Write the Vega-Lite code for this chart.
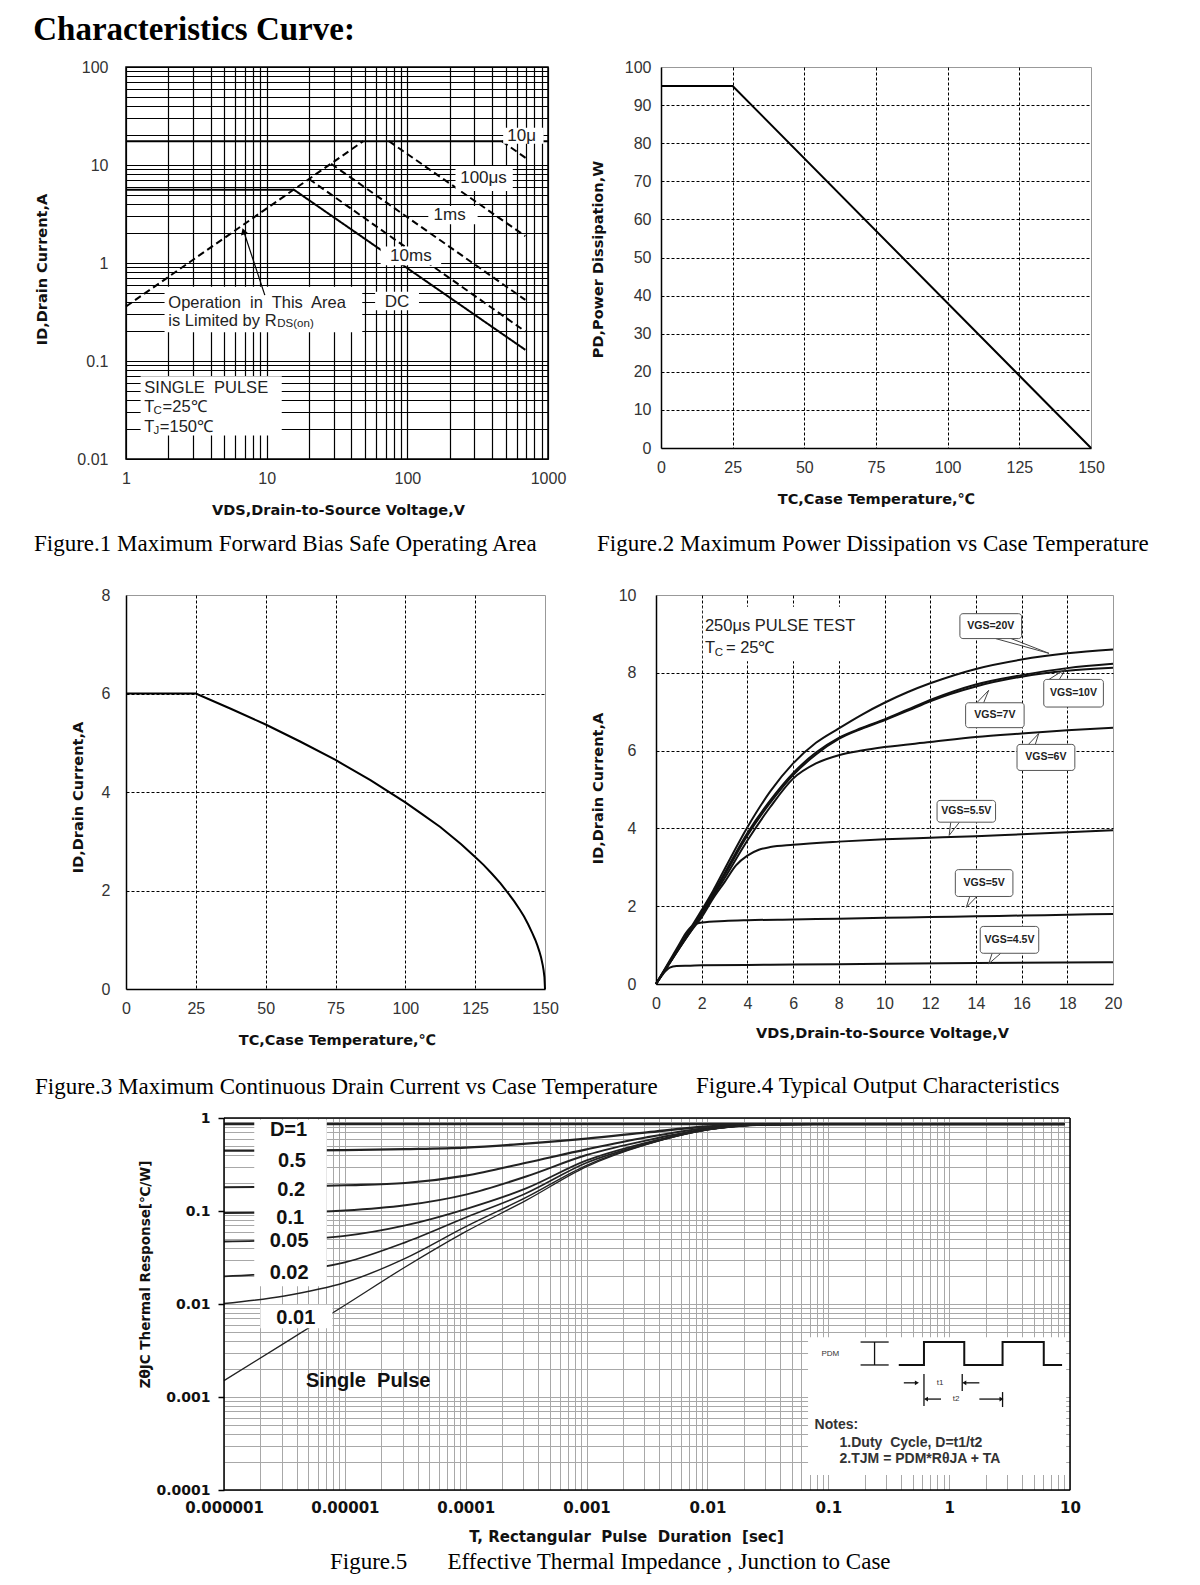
{
"$schema": "https://vega.github.io/schema/vega-lite/v6.json",
"background": "white",
"padding": {"left": 33, "top": 14, "right": 5, "bottom": 5},
"title": {"text": "Characteristics Curve:", "anchor": "start", "frame": "bounds", "font": "Liberation Serif", "fontSize": 33, "fontWeight": "bold", "color": "#000", "baseline": "alphabetic", "offset": -15},
"config": {
  "view": {"stroke": null},
  "axis": {"labelFont": "Liberation Sans", "labelFontSize": 16, "labelColor": "#333", "titleFont": "DejaVu Sans", "titleFontSize": 14.5, "titleFontWeight": "bold", "titleColor": "#111", "labelFlush": false, "labelOverlap": false, "ticks": false, "domain": false, "grid": true},
  "title": {"font": "Liberation Serif", "fontWeight": "normal", "color": "#000"}
},
"datasets": {
  "f1lines": [
    {"s":"idm","o":1,"x":1,"y":17.5},{"s":"idm","o":2,"x":1000,"y":17.5},
    {"s":"rds","o":1,"x":1,"y":0.36},{"s":"rds","o":2,"x":48.6,"y":17.5},
    {"s":"us10","o":1,"x":470,"y":17.5},{"s":"us10","o":2,"x":700,"y":11.7},
    {"s":"us100","o":1,"x":74,"y":17.5},{"s":"us100","o":2,"x":690,"y":1.88},
    {"s":"ms1","o":1,"x":28.7,"y":10.3},{"s":"ms1","o":2,"x":690,"y":0.42},
    {"s":"ms10","o":1,"x":20,"y":7.2},{"s":"ms10","o":2,"x":690,"y":0.2},
    {"s":"dc","o":1,"x":1,"y":5.6},{"s":"dc","o":2,"x":15.6,"y":5.6},{"s":"dc","o":3,"x":690,"y":0.13}
  ],
  "f1boxes": [
    {"x":1.88,"x2":47.8,"y":0.196,"y2":0.574},
    {"x":59,"x2":121,"y":0.329,"y2":0.509},
    {"x":1.27,"x2":12.8,"y":0.0174,"y2":0.07},
    {"x":480,"x2":930,"y":16.5,"y2":24},
    {"x":220,"x2":562,"y":5.43,"y2":9.78},
    {"x":141,"x2":316,"y":2.48,"y2":3.81},
    {"x":64.6,"x2":174,"y":0.95,"y2":1.47}
  ],
  "f1arrow": [{"x":9.7,"y":0.47,"x2":6.95,"y2":2.0}],
  "f1head": [{"x":6.85,"y":2.1}],
  "f1tc": [
    {"x":650,"y":19.8,"t":"10μ"},
    {"x":348,"y":7.3,"t":"100μs"},
    {"x":200,"y":3.07,"t":"1ms"},
    {"x":106,"y":1.18,"t":"10ms"},
    {"x":84.5,"y":0.401,"t":"DC"}
  ],
  "f1tl": [
    {"x":2.0,"y":0.392,"t":"Operation\u00a0 in\u00a0 This\u00a0 Area","k":"main"},
    {"x":2.0,"y":0.253,"t":"is Limited by R","k":"main"},
    {"x":11.9,"y":0.236,"t":"DS(on)","k":"sub"},
    {"x":1.35,"y":0.0531,"t":"SINGLE\u00a0 PULSE","k":"main"},
    {"x":1.35,"y":0.0338,"t":"T","k":"main"},
    {"x":1.57,"y":0.0312,"t":"C","k":"sub"},
    {"x":1.82,"y":0.0338,"t":"=25℃","k":"main"},
    {"x":1.35,"y":0.0211,"t":"T","k":"main"},
    {"x":1.57,"y":0.0195,"t":"J","k":"sub"},
    {"x":1.74,"y":0.0211,"t":"=150℃","k":"main"}
  ],
  "f2": [{"x":0,"y":95},{"x":25,"y":95},{"x":150,"y":0}],
  "f3": [{"x":0,"y":6},{"x":25,"y":6},{"x":37.5,"y":5.69},{"x":50,"y":5.37},{"x":62.5,"y":5.02},{"x":75,"y":4.65},{"x":87.5,"y":4.24},{"x":100,"y":3.79},{"x":106,"y":3.55},{"x":112.5,"y":3.29},{"x":120,"y":2.94},{"x":125,"y":2.68},{"x":128,"y":2.52},{"x":131,"y":2.34},{"x":134,"y":2.15},{"x":137,"y":1.93},{"x":139,"y":1.78},{"x":141,"y":1.61},{"x":142.5,"y":1.47},{"x":144,"y":1.31},{"x":145.5,"y":1.13},{"x":146.5,"y":1.0},{"x":147.3,"y":0.88},{"x":148,"y":0.76},{"x":148.6,"y":0.64},{"x":149.2,"y":0.48},{"x":149.5,"y":0.38},{"x":149.8,"y":0.24},{"x":150,"y":0}],
  "f4": [
    {"s":"20V","x":0,"y":0},{"s":"20V","x":0.5,"y":0.48},{"s":"20V","x":1,"y":0.95},{"s":"20V","x":1.5,"y":1.42},{"s":"20V","x":2,"y":1.9},{"s":"20V","x":2.5,"y":2.4},{"s":"20V","x":3,"y":2.95},{"s":"20V","x":4,"y":4.03},{"s":"20V","x":5,"y":4.95},{"s":"20V","x":6,"y":5.67},{"s":"20V","x":7,"y":6.2},{"s":"20V","x":8,"y":6.57},{"s":"20V","x":9,"y":6.92},{"s":"20V","x":10,"y":7.23},{"s":"20V","x":11,"y":7.5},{"s":"20V","x":12,"y":7.73},{"s":"20V","x":14,"y":8.1},{"s":"20V","x":16,"y":8.34},{"s":"20V","x":18,"y":8.5},{"s":"20V","x":20,"y":8.6},
    {"s":"10V","x":0,"y":0},{"s":"10V","x":0.5,"y":0.47},{"s":"10V","x":1,"y":0.93},{"s":"10V","x":1.5,"y":1.38},{"s":"10V","x":2,"y":1.85},{"s":"10V","x":2.5,"y":2.33},{"s":"10V","x":3,"y":2.85},{"s":"10V","x":4,"y":3.88},{"s":"10V","x":5,"y":4.72},{"s":"10V","x":6,"y":5.42},{"s":"10V","x":7,"y":5.95},{"s":"10V","x":8,"y":6.33},{"s":"10V","x":9,"y":6.58},{"s":"10V","x":10,"y":6.8},{"s":"10V","x":11,"y":7.05},{"s":"10V","x":12,"y":7.3},{"s":"10V","x":14,"y":7.7},{"s":"10V","x":16,"y":7.94},{"s":"10V","x":18,"y":8.12},{"s":"10V","x":20,"y":8.23},
    {"s":"7V","x":0,"y":0},{"s":"7V","x":0.5,"y":0.46},{"s":"7V","x":1,"y":0.92},{"s":"7V","x":1.5,"y":1.37},{"s":"7V","x":2,"y":1.83},{"s":"7V","x":2.5,"y":2.3},{"s":"7V","x":3,"y":2.8},{"s":"7V","x":4,"y":3.82},{"s":"7V","x":5,"y":4.66},{"s":"7V","x":6,"y":5.37},{"s":"7V","x":7,"y":5.9},{"s":"7V","x":8,"y":6.3},{"s":"7V","x":9,"y":6.56},{"s":"7V","x":10,"y":6.78},{"s":"7V","x":11,"y":7.02},{"s":"7V","x":12,"y":7.27},{"s":"7V","x":14,"y":7.65},{"s":"7V","x":16,"y":7.9},{"s":"7V","x":18,"y":8.05},{"s":"7V","x":20,"y":8.13},
    {"s":"6V","x":0,"y":0},{"s":"6V","x":0.5,"y":0.45},{"s":"6V","x":1,"y":0.9},{"s":"6V","x":1.5,"y":1.34},{"s":"6V","x":2,"y":1.78},{"s":"6V","x":2.5,"y":2.25},{"s":"6V","x":3,"y":2.72},{"s":"6V","x":4,"y":3.69},{"s":"6V","x":5,"y":4.55},{"s":"6V","x":6,"y":5.28},{"s":"6V","x":7,"y":5.67},{"s":"6V","x":8,"y":5.88},{"s":"6V","x":9,"y":6.0},{"s":"6V","x":10,"y":6.09},{"s":"6V","x":12,"y":6.22},{"s":"6V","x":14,"y":6.35},{"s":"6V","x":16,"y":6.44},{"s":"6V","x":18,"y":6.52},{"s":"6V","x":20,"y":6.59},
    {"s":"5.5V","x":0,"y":0},{"s":"5.5V","x":0.5,"y":0.45},{"s":"5.5V","x":1,"y":0.9},{"s":"5.5V","x":1.5,"y":1.33},{"s":"5.5V","x":2,"y":1.72},{"s":"5.5V","x":2.5,"y":2.2},{"s":"5.5V","x":3,"y":2.62},{"s":"5.5V","x":3.5,"y":3.05},{"s":"5.5V","x":4,"y":3.3},{"s":"5.5V","x":4.5,"y":3.45},{"s":"5.5V","x":5,"y":3.52},{"s":"5.5V","x":6,"y":3.58},{"s":"5.5V","x":8,"y":3.66},{"s":"5.5V","x":10,"y":3.72},{"s":"5.5V","x":12,"y":3.76},{"s":"5.5V","x":14,"y":3.8},{"s":"5.5V","x":16,"y":3.85},{"s":"5.5V","x":18,"y":3.9},{"s":"5.5V","x":20,"y":3.95},
    {"s":"5V","x":0,"y":0},{"s":"5V","x":0.5,"y":0.5},{"s":"5V","x":1,"y":1.0},{"s":"5V","x":1.3,"y":1.3},{"s":"5V","x":1.6,"y":1.5},{"s":"5V","x":2,"y":1.58},{"s":"5V","x":3,"y":1.62},{"s":"5V","x":4,"y":1.64},{"s":"5V","x":6,"y":1.66},{"s":"5V","x":8,"y":1.68},{"s":"5V","x":10,"y":1.7},{"s":"5V","x":12,"y":1.72},{"s":"5V","x":14,"y":1.74},{"s":"5V","x":16,"y":1.76},{"s":"5V","x":18,"y":1.78},{"s":"5V","x":20,"y":1.8},
    {"s":"4.5V","x":0,"y":0},{"s":"4.5V","x":0.3,"y":0.25},{"s":"4.5V","x":0.6,"y":0.42},{"s":"4.5V","x":0.9,"y":0.46},{"s":"4.5V","x":1.5,"y":0.47},{"s":"4.5V","x":2,"y":0.48},{"s":"4.5V","x":4,"y":0.49},{"s":"4.5V","x":6,"y":0.5},{"s":"4.5V","x":10,"y":0.52},{"s":"4.5V","x":14,"y":0.54},{"s":"4.5V","x":20,"y":0.56}
  ],
  "f4bg": [{"x":2.05,"x2":9.7,"y":8.3,"y2":9.7}],
  "f4boxes": [
    {"x":13.3,"x2":16.0,"y":8.88,"y2":9.52},
    {"x":16.97,"x2":19.58,"y":7.12,"y2":7.83},
    {"x":13.55,"x2":16.11,"y":6.59,"y2":7.23},
    {"x":15.8,"x2":18.33,"y":5.49,"y2":6.16},
    {"x":12.3,"x2":14.86,"y":4.16,"y2":4.72},
    {"x":13.1,"x2":15.62,"y":2.25,"y2":2.94},
    {"x":14.19,"x2":16.75,"y":0.79,"y2":1.48}
  ],
  "f4ptr": [
    {"x":14.86,"y":8.88,"x2":17.2,"y2":8.5},{"x":15.54,"y":8.88,"x2":17.2,"y2":8.5},
    {"x":17.2,"y":7.83,"x2":17.95,"y2":8.11},{"x":17.65,"y":7.83,"x2":17.95,"y2":8.11},
    {"x":14.04,"y":7.23,"x2":14.56,"y2":7.55},{"x":14.34,"y":7.23,"x2":14.56,"y2":7.55},
    {"x":16.3,"y":6.16,"x2":16.75,"y2":6.44},{"x":16.6,"y":6.16,"x2":16.75,"y2":6.44},
    {"x":12.9,"y":4.16,"x2":12.83,"y2":3.82},{"x":13.28,"y":4.16,"x2":12.83,"y2":3.82},
    {"x":13.73,"y":2.25,"x2":13.58,"y2":1.97},{"x":14.04,"y":2.25,"x2":13.58,"y2":1.97},
    {"x":14.71,"y":0.79,"x2":14.56,"y2":0.52},{"x":15.09,"y":0.79,"x2":14.56,"y2":0.52}
  ],
  "f4call": [
    {"x":14.65,"y":9.2,"t":"VGS=20V"},
    {"x":18.27,"y":7.47,"t":"VGS=10V"},
    {"x":14.83,"y":6.91,"t":"VGS=7V"},
    {"x":17.06,"y":5.83,"t":"VGS=6V"},
    {"x":13.58,"y":4.44,"t":"VGS=5.5V"},
    {"x":14.36,"y":2.6,"t":"VGS=5V"},
    {"x":15.47,"y":1.13,"t":"VGS=4.5V"}
  ],
  "f4ann": [
    {"x":2.14,"y":9.2,"t":"250μs PULSE TEST","k":"main"},
    {"x":2.14,"y":8.63,"t":"T","k":"main"},
    {"x":2.57,"y":8.5,"t":"C","k":"sub"},
    {"x":3.06,"y":8.63,"t":"= 25℃","k":"main"}
  ],
  "f5curves": [
    {"s":"1","x":1e-6,"y":0.86},{"s":"1","x":9,"y":0.86},
    {"s":"0.5","x":1e-6,"y":0.445},{"s":"0.5","x":3.16e-6,"y":0.447},{"s":"0.5","x":1e-5,"y":0.452},{"s":"0.5","x":3.16e-5,"y":0.462},{"s":"0.5","x":1e-4,"y":0.48},{"s":"0.5","x":3.16e-4,"y":0.53},{"s":"0.5","x":1e-3,"y":0.6},{"s":"0.5","x":3.16e-3,"y":0.7},{"s":"0.5","x":1e-2,"y":0.81},{"s":"0.5","x":3.16e-2,"y":0.855},{"s":"0.5","x":0.1,"y":0.86},{"s":"0.5","x":9,"y":0.86},
    {"s":"0.2","x":1e-6,"y":0.18},{"s":"0.2","x":3.16e-6,"y":0.182},{"s":"0.2","x":1e-5,"y":0.189},{"s":"0.2","x":3.16e-5,"y":0.2},{"s":"0.2","x":1e-4,"y":0.24},{"s":"0.2","x":3.16e-4,"y":0.33},{"s":"0.2","x":1e-3,"y":0.46},{"s":"0.2","x":3.16e-3,"y":0.62},{"s":"0.2","x":1e-2,"y":0.78},{"s":"0.2","x":3.16e-2,"y":0.852},{"s":"0.2","x":0.1,"y":0.86},{"s":"0.2","x":9,"y":0.86},
    {"s":"0.1","x":1e-6,"y":0.095},{"s":"0.1","x":3.16e-6,"y":0.096},{"s":"0.1","x":1e-5,"y":0.101},{"s":"0.1","x":3.16e-5,"y":0.115},{"s":"0.1","x":1e-4,"y":0.15},{"s":"0.1","x":3.16e-4,"y":0.235},{"s":"0.1","x":1e-3,"y":0.4},{"s":"0.1","x":3.16e-3,"y":0.575},{"s":"0.1","x":1e-2,"y":0.76},{"s":"0.1","x":3.16e-2,"y":0.85},{"s":"0.1","x":0.1,"y":0.86},{"s":"0.1","x":9,"y":0.86},
    {"s":"0.05","x":1e-6,"y":0.047},{"s":"0.05","x":3.16e-6,"y":0.049},{"s":"0.05","x":1e-5,"y":0.054},{"s":"0.05","x":3.16e-5,"y":0.07},{"s":"0.05","x":1e-4,"y":0.105},{"s":"0.05","x":3.16e-4,"y":0.175},{"s":"0.05","x":1e-3,"y":0.35},{"s":"0.05","x":3.16e-3,"y":0.545},{"s":"0.05","x":1e-2,"y":0.755},{"s":"0.05","x":3.16e-2,"y":0.85},{"s":"0.05","x":0.1,"y":0.86},{"s":"0.05","x":9,"y":0.86},
    {"s":"0.02","x":1e-6,"y":0.0198},{"s":"0.02","x":3.16e-6,"y":0.022},{"s":"0.02","x":1e-5,"y":0.028},{"s":"0.02","x":3.16e-5,"y":0.046},{"s":"0.02","x":1e-4,"y":0.085},{"s":"0.02","x":3.16e-4,"y":0.155},{"s":"0.02","x":1e-3,"y":0.33},{"s":"0.02","x":3.16e-3,"y":0.53},{"s":"0.02","x":1e-2,"y":0.75},{"s":"0.02","x":3.16e-2,"y":0.85},{"s":"0.02","x":0.1,"y":0.86},{"s":"0.02","x":9,"y":0.86},
    {"s":"0.01","x":1e-6,"y":0.0101},{"s":"0.01","x":3.16e-6,"y":0.0122},{"s":"0.01","x":1e-5,"y":0.017},{"s":"0.01","x":3.16e-5,"y":0.031},{"s":"0.01","x":1e-4,"y":0.068},{"s":"0.01","x":3.16e-4,"y":0.14},{"s":"0.01","x":1e-3,"y":0.31},{"s":"0.01","x":3.16e-3,"y":0.525},{"s":"0.01","x":1e-2,"y":0.745},{"s":"0.01","x":3.16e-2,"y":0.85},{"s":"0.01","x":0.1,"y":0.86},{"s":"0.01","x":9,"y":0.86},
    {"s":"sp","x":1e-6,"y":0.0015},{"s":"sp","x":3.16e-6,"y":0.0038},{"s":"sp","x":1e-5,"y":0.0097},{"s":"sp","x":3.16e-5,"y":0.025},{"s":"sp","x":1e-4,"y":0.06},{"s":"sp","x":3.16e-4,"y":0.13},{"s":"sp","x":1e-3,"y":0.3},{"s":"sp","x":3.16e-3,"y":0.52},{"s":"sp","x":1e-2,"y":0.745},{"s":"sp","x":3.16e-2,"y":0.85},{"s":"sp","x":0.1,"y":0.86},{"s":"sp","x":9,"y":0.86}
  ],
  "f5frame": [
    {"x":1e-6,"x2":10,"y":1,"y2":1},
    {"x":1e-6,"x2":10,"y":0.0001,"y2":0.0001},
    {"x":1e-6,"x2":1e-6,"y":0.0001,"y2":1},
    {"x":10,"x2":10,"y":0.0001,"y2":1}
  ],
  "f5boxes": [
    {"x":1.78e-6,"x2":7.08e-6,"y":0.0155,"y2":0.96},
    {"x":2.0e-6,"x2":7.9e-6,"y":0.0055,"y2":0.0098},
    {"x":0.068,"x2":9.3,"y":0.000145,"y2":0.00438}
  ],
  "f5lab": [
    {"x":3.42e-6,"y":0.75,"t":"D=1"},
    {"x":3.65e-6,"y":0.342,"t":"0.5"},
    {"x":3.6e-6,"y":0.169,"t":"0.2"},
    {"x":3.53e-6,"y":0.084,"t":"0.1"},
    {"x":3.46e-6,"y":0.047,"t":"0.05"},
    {"x":3.46e-6,"y":0.0216,"t":"0.02"},
    {"x":3.93e-6,"y":0.007,"t":"0.01"},
    {"x":1.56e-5,"y":0.0015,"t":"Single\u00a0 Pulse"}
  ],
  "f5wave": [
    {"o":1,"x":0.383,"y":0.00221},{"o":2,"x":0.619,"y":0.00221},{"o":3,"x":0.619,"y":0.0039},{"o":4,"x":1.334,"y":0.0039},{"o":5,"x":1.334,"y":0.00221},{"o":6,"x":2.767,"y":0.00221},{"o":7,"x":2.767,"y":0.0039},{"o":8,"x":6.067,"y":0.0039},{"o":9,"x":6.067,"y":0.00221},{"o":10,"x":8.6,"y":0.00221}
  ],
  "f5rules": [
    {"x":0.2415,"x2":0.2415,"y":0.00221,"y2":0.0039},
    {"x":0.185,"x2":0.316,"y":0.0039,"y2":0.0039},
    {"x":0.185,"x2":0.316,"y":0.00221,"y2":0.00221},
    {"x":0.4217,"x2":0.53,"y":0.00142,"y2":0.00142},
    {"x":0.619,"x2":0.619,"y":0.0008,"y2":0.00177},
    {"x":1.283,"x2":1.283,"y":0.00116,"y2":0.00177},
    {"x":1.38,"x2":1.778,"y":0.00142,"y2":0.00142},
    {"x":0.66,"x2":0.857,"y":0.00095,"y2":0.00095},
    {"x":1.778,"x2":2.65,"y":0.00095,"y2":0.00095},
    {"x":2.767,"x2":2.767,"y":0.00078,"y2":0.00113}
  ],
  "f5heads": [
    {"x":0.541,"y":0.00142,"d":"r"},{"x":1.334,"y":0.00142,"d":"l"},{"x":0.643,"y":0.00095,"d":"l"},{"x":2.712,"y":0.00095,"d":"r"}
  ],
  "f5small": [
    {"x":0.841,"y":0.00142,"t":"t1"},{"x":1.143,"y":0.00095,"t":"t2"},{"x":0.104,"y":0.0029,"t":"PDM"}
  ],
  "f5notes": [
    {"x":0.077,"y":0.000496,"t":"Notes:"},
    {"x":0.124,"y":0.000324,"t":"1.Duty\u00a0 Cycle, D=t1/t2"},
    {"x":0.124,"y":0.000217,"t":"2.TJM = PDM*RθJA + TA"}
  ]
},
"spacing": 12,
"columns": 1,
"align": "none",
"concat": [
  {"spacing": 29, "columns": 1, "align": "none", "concat": [
    {"bounds": "flush", "spacing": 113, "hconcat": [
      {
        "width": 422, "height": 392,
        "view": {"stroke": "#000", "strokeWidth": 1.5},
        "title": {"text": "Figure.1 Maximum Forward Bias Safe Operating Area", "orient": "bottom", "anchor": "start", "dx": 0, "offset": 16, "baseline": "top", "font": "Liberation Serif", "fontSize": 23, "fontWeight": "normal"},
        "layer": [
          {"data": {"name": "f1lines"}, "mark": {"type": "line", "color": "#000", "strokeWidth": 2},
           "encoding": {
             "x": {"field": "x", "type": "quantitative", "scale": {"type": "log", "domain": [1, 1000]},
                   "axis": {"values": [1,2,3,4,5,6,7,8,9,10,20,30,40,50,60,70,80,90,100,200,300,400,500,600,700,800,900,1000], "gridColor": "#000", "gridWidth": 1.2, "labelExpr": "indexof([1,10,100,1000], datum.value) >= 0 ? '' + datum.value : ''", "labelPadding": 11, "title": "VDS,Drain-to-Source Voltage,V", "titleX": 212, "titleY": 51, "titleBaseline": "middle"}},
             "y": {"field": "y", "type": "quantitative", "scale": {"type": "log", "domain": [0.01, 100]},
                   "axis": {"values": [0.01,0.02,0.03,0.04,0.05,0.06,0.07,0.08,0.09,0.1,0.2,0.3,0.4,0.5,0.6,0.7,0.8,0.9,1,2,3,4,5,6,7,8,9,10,20,30,40,50,60,70,80,90,100], "gridColor": "#000", "gridWidth": 1.2, "labelExpr": "indexof([0.01,0.1,1,10,100], datum.value) >= 0 ? '' + datum.value : ''", "labelPadding": 18, "minExtent": 91, "maxExtent": 200, "title": "ID,Drain Current,A", "titleX": -84, "titleY": 202, "titleBaseline": "middle"}},
             "detail": {"field": "s"},
             "order": {"field": "o"},
             "strokeDash": {"field": "s", "type": "nominal", "scale": {"domain": ["idm","rds","us10","us100","ms1","ms10","dc"], "range": [[1,0],[7,4],[7,4],[7,4],[7,4],[7,4],[1,0]]}, "legend": null}
           }},
          {"data": {"name": "f1boxes"}, "mark": {"type": "rect", "fill": "#fff"},
           "encoding": {"x": {"field": "x", "type": "quantitative"}, "x2": {"field": "x2"}, "y": {"field": "y", "type": "quantitative"}, "y2": {"field": "y2"}}},
          {"data": {"name": "f1arrow"}, "mark": {"type": "rule", "color": "#000", "strokeWidth": 1.2},
           "encoding": {"x": {"field": "x", "type": "quantitative"}, "x2": {"field": "x2"}, "y": {"field": "y", "type": "quantitative"}, "y2": {"field": "y2"}}},
          {"data": {"name": "f1head"}, "mark": {"type": "point", "shape": "triangle-up", "filled": true, "color": "#000", "opacity": 1, "size": 55, "angle": 342},
           "encoding": {"x": {"field": "x", "type": "quantitative"}, "y": {"field": "y", "type": "quantitative"}}},
          {"data": {"name": "f1tc"}, "mark": {"type": "text", "font": "Liberation Sans", "fontSize": 17, "color": "#222", "align": "center", "baseline": "middle"},
           "encoding": {"x": {"field": "x", "type": "quantitative"}, "y": {"field": "y", "type": "quantitative"}, "text": {"field": "t"}}},
          {"data": {"name": "f1tl"}, "mark": {"type": "text", "font": "Liberation Sans", "color": "#222", "align": "left", "baseline": "middle"},
           "encoding": {"x": {"field": "x", "type": "quantitative"}, "y": {"field": "y", "type": "quantitative"}, "text": {"field": "t"},
                        "size": {"field": "k", "type": "ordinal", "scale": {"domain": ["main","sub"], "range": [16.5, 11.5]}, "legend": null}}}
        ]
      },
      {
        "width": 430, "height": 381,
        "view": {"stroke": "#999", "strokeWidth": 1},
        "title": {"text": "Figure.2 Maximum Power Dissipation vs Case Temperature", "orient": "bottom", "anchor": "start", "dx": 7, "offset": 27, "baseline": "top", "font": "Liberation Serif", "fontSize": 23, "fontWeight": "normal"},
        "layer": [
          {"data": {"name": "f2"}, "mark": {"type": "line", "color": "#000", "strokeWidth": 2},
           "encoding": {
             "x": {"field": "x", "type": "quantitative", "scale": {"domain": [0, 150], "nice": false},
                   "axis": {"values": [0,25,50,75,100,125,150], "gridColor": "#000", "gridDash": [3,2], "gridWidth": 1, "gridOpacity": {"condition": {"test": "datum.value == 0 || datum.value == 150", "value": 0}, "value": 1}, "domain": true, "domainColor": "#000", "domainWidth": 1.5, "labelPadding": 11, "title": "TC,Case Temperature,℃", "titleX": 215, "titleY": 51, "titleBaseline": "middle"}},
             "y": {"field": "y", "type": "quantitative", "scale": {"domain": [0, 100], "nice": false},
                   "axis": {"values": [0,10,20,30,40,50,60,70,80,90,100], "gridColor": "#000", "gridDash": [3,2], "gridWidth": 1, "gridOpacity": {"condition": {"test": "datum.value == 0 || datum.value == 100", "value": 0}, "value": 1}, "domain": true, "domainColor": "#000", "domainWidth": 1.5, "labelPadding": 10, "minExtent": 70, "maxExtent": 200, "title": "PD,Power Dissipation,W", "titleX": -63, "titleY": 192, "titleBaseline": "middle"}}
           }}
        ]
      }
    ]},
    {"bounds": "flush", "spacing": 111, "hconcat": [
      {
        "width": 419, "height": 394,
        "view": {"stroke": "#999", "strokeWidth": 1},
        "title": {"text": "Figure.3 Maximum Continuous Drain Current vs Case Temperature", "orient": "bottom", "anchor": "start", "dx": 0, "offset": 29, "baseline": "top", "font": "Liberation Serif", "fontSize": 23, "fontWeight": "normal"},
        "layer": [
          {"data": {"name": "f3"}, "mark": {"type": "line", "color": "#000", "strokeWidth": 2},
           "encoding": {
             "x": {"field": "x", "type": "quantitative", "scale": {"domain": [0, 150], "nice": false},
                   "axis": {"values": [0,25,50,75,100,125,150], "gridColor": "#000", "gridDash": [3,2], "gridWidth": 1, "gridOpacity": {"condition": {"test": "datum.value == 0 || datum.value == 150", "value": 0}, "value": 1}, "domain": true, "domainColor": "#000", "domainWidth": 1.5, "labelPadding": 11, "title": "TC,Case Temperature,℃", "titleX": 211, "titleY": 51, "titleBaseline": "middle"}},
             "y": {"field": "y", "type": "quantitative", "scale": {"domain": [0, 8], "nice": false},
                   "axis": {"values": [0,2,4,6,8], "gridColor": "#000", "gridDash": [3,2], "gridWidth": 1, "gridOpacity": {"condition": {"test": "datum.value == 0 || datum.value == 8", "value": 0}, "value": 1}, "domain": true, "domainColor": "#000", "domainWidth": 1.5, "labelPadding": 16, "minExtent": 91, "maxExtent": 200, "title": "ID,Drain Current,A", "titleX": -48, "titleY": 202, "titleBaseline": "middle"}}
           }}
        ]
      },
      {
        "width": 457, "height": 389,
        "view": {"stroke": "#999", "strokeWidth": 1},
        "title": {"text": "Figure.4 Typical Output Characteristics", "orient": "bottom", "anchor": "start", "dx": 108, "offset": 35, "baseline": "top", "font": "Liberation Serif", "fontSize": 23, "fontWeight": "normal"},
        "layer": [
          {"data": {"name": "f4"}, "mark": {"type": "line", "color": "#111", "strokeWidth": 2, "interpolate": "monotone"},
           "encoding": {
             "x": {"field": "x", "type": "quantitative", "scale": {"domain": [0, 20], "nice": false},
                   "axis": {"values": [0,2,4,6,8,10,12,14,16,18,20], "gridColor": "#000", "gridDash": [3,2], "gridWidth": 1, "gridOpacity": {"condition": {"test": "datum.value == 0 || datum.value == 20", "value": 0}, "value": 1}, "domain": true, "domainColor": "#000", "domainWidth": 1.5, "labelPadding": 11, "title": "VDS,Drain-to-Source Voltage,V", "titleX": 226, "titleY": 49, "titleBaseline": "middle"}},
             "y": {"field": "y", "type": "quantitative", "scale": {"domain": [0, 10], "nice": false},
                   "axis": {"values": [0,2,4,6,8,10], "gridColor": "#000", "gridDash": [3,2], "gridWidth": 1, "gridOpacity": {"condition": {"test": "datum.value == 0 || datum.value == 10", "value": 0}, "value": 1}, "domain": true, "domainColor": "#000", "domainWidth": 1.5, "labelPadding": 20, "minExtent": 68, "maxExtent": 200, "title": "ID,Drain Current,A", "titleX": -58, "titleY": 193, "titleBaseline": "middle"}},
             "detail": {"field": "s"}
           }},
          {"data": {"name": "f4bg"}, "mark": {"type": "rect", "fill": "#fff"},
           "encoding": {"x": {"field": "x", "type": "quantitative"}, "x2": {"field": "x2"}, "y": {"field": "y", "type": "quantitative"}, "y2": {"field": "y2"}}},
          {"data": {"name": "f4ptr"}, "mark": {"type": "rule", "color": "#444", "strokeWidth": 1},
           "encoding": {"x": {"field": "x", "type": "quantitative"}, "x2": {"field": "x2"}, "y": {"field": "y", "type": "quantitative"}, "y2": {"field": "y2"}}},
          {"data": {"name": "f4boxes"}, "mark": {"type": "rect", "fill": "#fff", "stroke": "#555", "strokeWidth": 1, "cornerRadius": 3},
           "encoding": {"x": {"field": "x", "type": "quantitative"}, "x2": {"field": "x2"}, "y": {"field": "y", "type": "quantitative"}, "y2": {"field": "y2"}}},
          {"data": {"name": "f4call"}, "mark": {"type": "text", "font": "Liberation Sans", "fontSize": 10.5, "fontWeight": "bold", "color": "#222", "align": "center", "baseline": "middle"},
           "encoding": {"x": {"field": "x", "type": "quantitative"}, "y": {"field": "y", "type": "quantitative"}, "text": {"field": "t"}}},
          {"data": {"name": "f4ann"}, "mark": {"type": "text", "font": "Liberation Sans", "color": "#222", "align": "left", "baseline": "middle"},
           "encoding": {"x": {"field": "x", "type": "quantitative"}, "y": {"field": "y", "type": "quantitative"}, "text": {"field": "t"},
                        "size": {"field": "k", "type": "ordinal", "scale": {"domain": ["main","sub"], "range": [19.5, 12.5]}, "legend": null}}}
        ]
      }
    ]}
  ]},
  {
    "width": 944, "height": 372,
    "title": {"text": "Figure.5\u00a0\u00a0\u00a0\u00a0\u00a0\u00a0 Effective Thermal Impedance , Junction to Case", "orient": "bottom", "anchor": "start", "dx": 204, "offset": 7, "baseline": "top", "font": "Liberation Serif", "fontSize": 23, "fontWeight": "normal"},
    "layer": [
      {"data": {"name": "f5curves"}, "mark": {"type": "line", "color": "#222", "interpolate": "monotone"},
       "encoding": {
         "x": {"field": "x", "type": "quantitative", "scale": {"type": "log", "domain": [0.000001, 10], "range": [98, 944]},
               "axis": {"values": [1e-6,2e-6,3e-6,4e-6,5e-6,6e-6,7e-6,8e-6,9e-6,1e-5,2e-5,3e-5,4e-5,5e-5,6e-5,7e-5,8e-5,9e-5,0.0001,0.0002,0.0003,0.0004,0.0005,0.0006,0.0007,0.0008,0.0009,0.001,0.002,0.003,0.004,0.005,0.006,0.007,0.008,0.009,0.01,0.02,0.03,0.04,0.05,0.06,0.07,0.08,0.09,0.1,0.2,0.3,0.4,0.5,0.6,0.7,0.8,0.9,1,2,3,4,5,6,7,8,9,10],
                        "gridColor": "#a8a8a8", "gridWidth": 1, "labelExpr": "indexof([0.000001,0.00001,0.0001,0.001,0.01,0.1,1,10], datum.value) >= 0 ? '' + datum.value : ''", "labelFont": "DejaVu Sans", "labelFontWeight": "bold", "labelFontSize": 15, "labelColor": "#111", "labelPadding": 10, "title": "T, Rectangular\u00a0 Pulse\u00a0 Duration\u00a0 [sec]", "titleFont": "DejaVu Sans", "titleFontSize": 15, "titleX": 500, "titleY": 46, "titleBaseline": "middle"}},
         "y": {"field": "y", "type": "quantitative", "scale": {"type": "log", "domain": [0.0001, 1]},
               "axis": {"values": [0.0001,0.0002,0.0003,0.0004,0.0005,0.0006,0.0007,0.0008,0.0009,0.001,0.002,0.003,0.004,0.005,0.006,0.007,0.008,0.009,0.01,0.02,0.03,0.04,0.05,0.06,0.07,0.08,0.09,0.1,0.2,0.3,0.4,0.5,0.6,0.7,0.8,0.9,1],
                        "offset": -98,
                        "gridColor": "#a8a8a8", "gridWidth": 1, "ticks": true, "tickSize": 6, "tickWidth": 1.5, "tickColor": "#000", "tickOpacity": {"condition": {"test": "indexof([0.0001,0.001,0.01,0.1,1], datum.value) >= 0", "value": 1}, "value": 0}, "labelExpr": "indexof([0.0001,0.001,0.01,0.1,1], datum.value) >= 0 ? '' + datum.value : ''", "labelFont": "DejaVu Sans", "labelFontWeight": "bold", "labelFontSize": 14, "labelColor": "#111", "labelPadding": 8, "title": "ZθJC Thermal Response[℃/W]", "titleFont": "DejaVu Sans", "titleFontSize": 13.5, "titleX": -79, "titleY": 156, "titleBaseline": "middle"}},
         "detail": {"field": "s"},
         "strokeWidth": {"field": "s", "type": "ordinal", "scale": {"domain": ["1","0.5","0.2","0.1","0.05","0.02","0.01","sp"], "range": [2.5,1.3,1.3,1.3,1.3,1.3,1.3,1.3]}, "legend": null}
       }},
      {"data": {"name": "f5boxes"}, "mark": {"type": "rect", "fill": "#fff"},
       "encoding": {"x": {"field": "x", "type": "quantitative"}, "x2": {"field": "x2"}, "y": {"field": "y", "type": "quantitative"}, "y2": {"field": "y2"}}},
      {"data": {"name": "f5frame"}, "mark": {"type": "rule", "color": "#000", "strokeWidth": 1.5},
       "encoding": {"x": {"field": "x", "type": "quantitative"}, "x2": {"field": "x2"}, "y": {"field": "y", "type": "quantitative"}, "y2": {"field": "y2"}}},
      {"data": {"name": "f5lab"}, "mark": {"type": "text", "font": "Liberation Sans", "fontWeight": "bold", "fontSize": 20, "color": "#111", "align": "center", "baseline": "middle"},
       "encoding": {"x": {"field": "x", "type": "quantitative"}, "y": {"field": "y", "type": "quantitative"}, "text": {"field": "t"}}},
      {"data": {"name": "f5wave"}, "mark": {"type": "line", "color": "#111", "strokeWidth": 2},
       "encoding": {"x": {"field": "x", "type": "quantitative"}, "y": {"field": "y", "type": "quantitative"}, "order": {"field": "o"}}},
      {"data": {"name": "f5rules"}, "mark": {"type": "rule", "color": "#111", "strokeWidth": 1.3},
       "encoding": {"x": {"field": "x", "type": "quantitative"}, "x2": {"field": "x2"}, "y": {"field": "y", "type": "quantitative"}, "y2": {"field": "y2"}}},
      {"data": {"name": "f5heads"}, "mark": {"type": "point", "filled": true, "color": "#111", "opacity": 1, "size": 22},
       "encoding": {"x": {"field": "x", "type": "quantitative"}, "y": {"field": "y", "type": "quantitative"},
                    "shape": {"field": "d", "type": "nominal", "scale": {"domain": ["r","l"], "range": ["triangle-right","triangle-left"]}, "legend": null}}},
      {"data": {"name": "f5small"}, "mark": {"type": "text", "font": "Liberation Sans", "fontSize": 8, "color": "#333", "align": "center", "baseline": "middle"},
       "encoding": {"x": {"field": "x", "type": "quantitative"}, "y": {"field": "y", "type": "quantitative"}, "text": {"field": "t"}}},
      {"data": {"name": "f5notes"}, "mark": {"type": "text", "font": "Liberation Sans", "fontWeight": "bold", "fontSize": 14, "color": "#333", "align": "left", "baseline": "middle"},
       "encoding": {"x": {"field": "x", "type": "quantitative"}, "y": {"field": "y", "type": "quantitative"}, "text": {"field": "t"}}}
    ]
  }
]
}
